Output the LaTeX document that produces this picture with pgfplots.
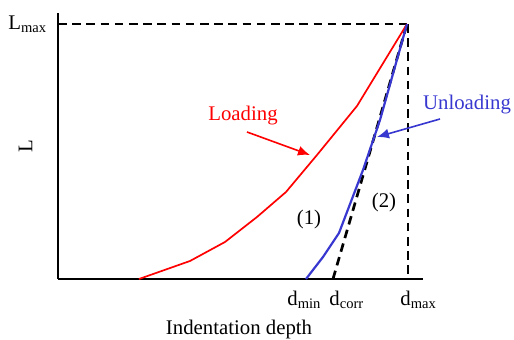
\documentclass[border=0pt]{standalone}
\usepackage{fontspec}
\setmainfont{Liberation Serif}
\usepackage{pgfplots}
\pgfplotsset{compat=1.18}
\usetikzlibrary{arrows.meta}
\definecolor{unload}{rgb}{0.22,0.22,0.82}
\begin{document}
\fontsize{10.4}{12}\selectfont
\begin{tikzpicture}
\begin{axis}[
  scale only axis,
  width=182.5pt, height=133pt,
  xmin=0, xmax=365, ymin=0, ymax=266,
  axis x line=bottom, axis y line=left,
  axis line style={-, line width=0.7pt},
  xtick=\empty, ytick=\empty,
  clip=false,
]
% reference lines: maximum load, maximum depth and the unloading tangent
\addplot[black, line width=1.35pt, dash pattern=on 4.3pt off 2.8pt] coordinates {(0,255) (349,255)};
\addplot[black, line width=1.35pt, dash pattern=on 4.3pt off 2.8pt] coordinates {(350,255) (350,0)};
\addplot[black, line width=1.35pt, dash pattern=on 4.3pt off 2.8pt] coordinates {(275,0) (349,255)};
% loading curve
\addplot[red, line width=0.85pt] coordinates {
  (81,0) (132,18) (167,37) (199,62) (228,87) (259,124) (299,173) (349,255)};
% unloading curve
\addplot[unload, line width=1.1pt] coordinates {
  (248,0) (265,22) (281,46) (305,109) (322,159) (349,255)};
% annotation arrows
\draw[red, line width=0.8pt, -{Latex[length=6pt,width=5pt]}] (axis cs:189,147) -- (axis cs:252,124);
\draw[unload, line width=0.8pt, -{Latex[length=6pt,width=5pt]}] (axis cs:382,160) -- (axis cs:319,142);
% labels
\node[red] at (axis cs:185,163) {Loading};
\node[unload] at (axis cs:409,174) {Unloading};
\node at (axis cs:251,59) {(1)};
\node at (axis cs:326,76) {(2)};
\node[anchor=base west, inner sep=0pt] at (axis cs:-50,249) {L\textsubscript{max}};
\node[anchor=base west, inner sep=0pt] at (axis cs:229,-27) {d\textsubscript{min}};
\node[anchor=base west, inner sep=0pt] at (axis cs:271,-27) {d\textsubscript{corr}};
\node[anchor=base west, inner sep=0pt] at (axis cs:342,-27) {d\textsubscript{max}};
\node[rotate=90, inner sep=0pt] at (axis cs:-32.5,132.5) {L};
\node[anchor=base, inner sep=0pt] at (axis cs:181,-56) {Indentation depth};
\coordinate (bbl) at (axis cs:-58,-61);
\coordinate (btr) at (axis cs:456,279);
\end{axis}
\pgfresetboundingbox
\path (bbl) rectangle (btr);
\end{tikzpicture}
\end{document}
